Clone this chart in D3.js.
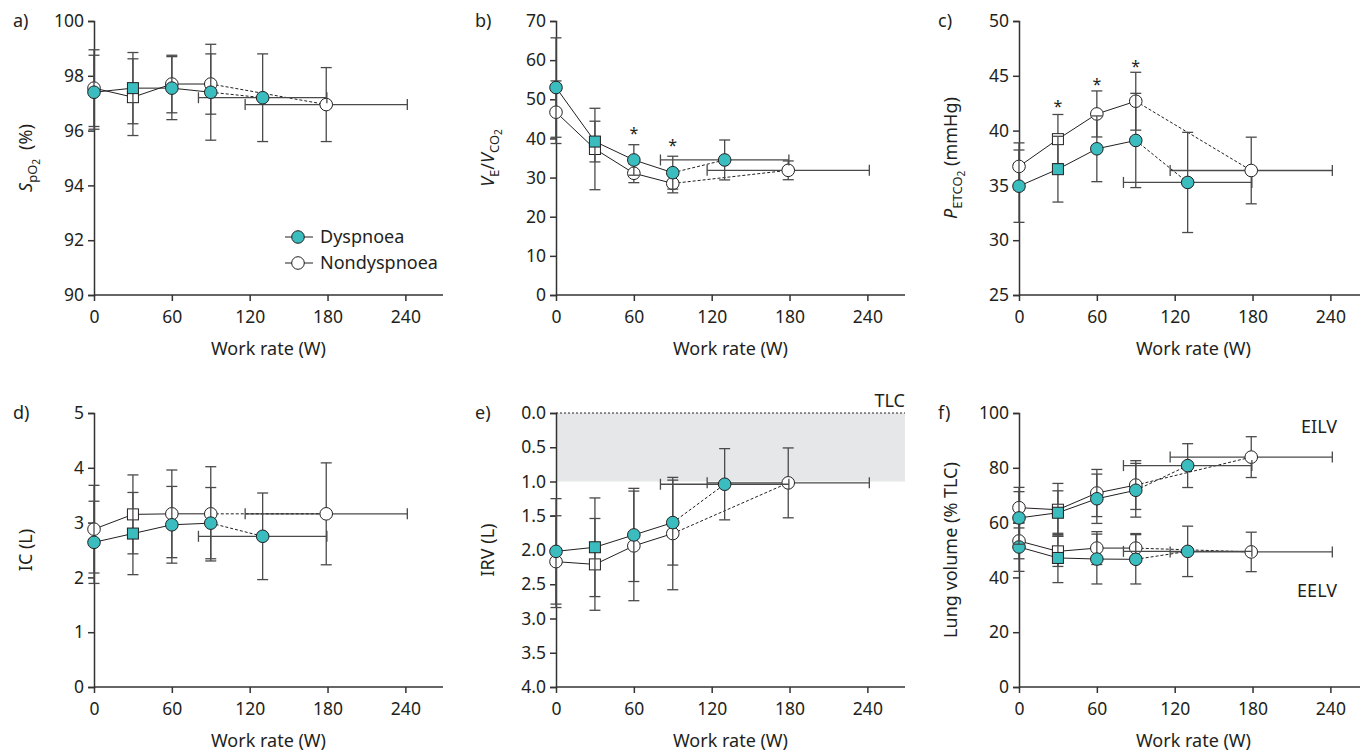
<!DOCTYPE html>
<html>
  <head>
    <meta charset="utf-8">
    <title>Dyspnoea vs nondyspnoea during exercise</title>
    <script src="https://cdn.jsdelivr.net/npm/d3@7"></script>
    <style>
      body { margin: 0; background: #fff; }
      text { font-family: "Noto Sans", sans-serif; fill: #231f20; }
    </style>
  </head>
  <body>
    <script>
        // work rate stages; the last point of every series is the peak (mean +/- sd on x too)
        var stageW = [0, 30, 60, 90];
        var peakDys = [130, 49.5];   // W, mean and sd
        var peakNon = [179, 62.5];

        // a) SpO2 (%)
        var spo2Dys = [97.4, 97.55, 97.55, 97.4, 97.2];
        var spo2DysSd = [1.35, 1.3, 1.15, 1.75, 1.6];
        var spo2Non = [97.55, 97.22, 97.7, 97.7, 96.95];
        var spo2NonSd = [1.4, 1.4, 1.05, 1.1, 1.35];

        // b) VE/VCO2
        var veDys = [53, 39.2, 34.5, 31.25, 34.5];
        var veDysSd = [12.7, 5.2, 3.9, 4.2, 5.1];
        var veNon = [46.7, 37.3, 31.1, 28.5, 31.85];
        var veNonSd = [8, 10.4, 2.4, 2.4, 2.4];
        var veStarW = [60, 90];
        var veStarY = [42.1, 39.2];

        // c) PETCO2 (mmHg)
        var petDys = [34.93, 36.48, 38.34, 39.1, 35.27];
        var petDysSd = [3.3, 3.0, 3.0, 4.3, 4.57];
        var petNon = [36.73, 39.22, 41.52, 42.68, 36.36];
        var petNonSd = [2.15, 2.25, 2.1, 2.64, 3.04];
        var petStarW = [30, 60, 90];
        var petStarY = [42.5, 44.5, 46.2];

        // d) IC (L)
        var icDys = [2.64, 2.80, 2.96, 2.99, 2.75];
        var icDysSd = [0.75, 0.75, 0.7, 0.65, 0.79];
        var icNon = [2.88, 3.15, 3.16, 3.16, 3.16];
        var icNonSd = [0.8, 0.72, 0.8, 0.86, 0.93];

        // e) IRV (L)
        var irvDys = [2.02, 1.96, 1.78, 1.60, 1.04];
        var irvDysSd = [0.77, 0.72, 0.68, 0.62, 0.52];
        var irvNon = [2.17, 2.21, 1.94, 1.76, 1.02];
        var irvNonSd = [0.67, 0.67, 0.8, 0.82, 0.51];

        // f) lung volumes (% TLC)
        var eilvDys = [61.7, 63.6, 68.7, 71.8, 80.8];
        var eilvDysSd = [9.6, 8, 9, 9.8, 8];
        var eilvNon = [65.45, 64.7, 70.8, 73.7, 83.9];
        var eilvNonSd = [7.4, 9.6, 8.6, 8.9, 7.45];
        var eelvDys = [51.1, 47.1, 46.7, 46.6, 49.5];
        var eelvDysSd = [8.9, 9, 9.1, 9, 9.2];
        var eelvNon = [53.3, 49.5, 50.7, 50.7, 49.3];
        var eelvNonSd = [6.5, 5.5, 6, 5.3, 7.2];

        var xTicks = [0, 60, 120, 180, 240];

        var width = 349, height = 274;
        var teal = "#3bbcbf";
        var ink = "#231f20";
        var barColor = "#4a4a4a";

        var svg = d3.select("body").append("svg")
            .attr("width", 1360)
            .attr("height", 753);

        var x = d3.scaleLinear().domain([0, 269]).range([0, width]);

        function makePanel(left, top, letter, yDomain, yTicks, yFmt) {
          var g = svg.append("g").attr("transform", "translate(" + left + "," + top + ")");
          var y = d3.scaleLinear().domain(yDomain).range([height, 0]);

          var xa = g.append("g")
            .attr("transform", "translate(0," + height + ")")
            .call(d3.axisBottom(x).tickValues(xTicks).tickSizeOuter(0).tickSize(6).tickPadding(10));
          var ya = g.append("g")
            .call(d3.axisLeft(y).tickValues(yTicks).tickFormat(yFmt).tickSizeOuter(0).tickSize(6).tickPadding(4));
          [xa, ya].forEach(function(a) {
            a.selectAll("path, line").attr("stroke", "#333").attr("stroke-width", 1.5);
            a.selectAll("text").style("font-size", "17.5px").attr("fill", ink);
          });
          // x-axis line runs from y-axis to right end
          xa.select("path.domain").attr("d", "M0,0H" + width);

          g.append("text")
            .attr("x", width / 2)
            .attr("y", height + 60)
            .attr("text-anchor", "middle")
            .style("font-size", "18px")
            .text("Work rate (W)");

          g.append("text")
            .attr("x", -81)
            .attr("y", 6)
            .style("font-size", "18px")
            .text(letter);

          return {g: g, y: y};
        }

        function yLabel(p, parts) {
          var t = p.g.append("text")
            .attr("transform", "translate(-62," + (height / 2) + ") rotate(-90)")
            .attr("text-anchor", "middle")
            .style("font-size", "18px");
          parts.forEach(function(s) {
            var ts = t.append("tspan").text(s.t);
            if (s.it) ts.style("font-style", "italic");
            if (s.size) ts.style("font-size", s.size + "px");
            if (s.dy) ts.attr("dy", s.dy);
          });
        }

        function drawSeries(p, vals, sds, peak, filled, showPeakX) {
          var g = p.g, y = p.y;
          var pts = vals.map(function(v, i) {
            return {w: i < 4 ? stageW[i] : peak[0], v: v, sd: sds[i], i: i};
          });
          var cap = 5.5;

          // vertical error bars
          var eb = g.append("g").attr("stroke", barColor).attr("stroke-width", 1.3).attr("fill", "none");
          pts.forEach(function(d) {
            var cx = x(d.w), y1 = y(d.v + d.sd), y2 = y(d.v - d.sd);
            eb.append("line").attr("x1", cx).attr("x2", cx).attr("y1", y1).attr("y2", y2);
            eb.append("line").attr("x1", cx - cap).attr("x2", cx + cap).attr("y1", y1).attr("y2", y1);
            eb.append("line").attr("x1", cx - cap).attr("x2", cx + cap).attr("y1", y2).attr("y2", y2);
          });
          // horizontal error bar on the peak point
          if (showPeakX) {
            var pk = pts[4], cy = y(pk.v);
            var xl = x(peak[0] - peak[1]), xr = x(peak[0] + peak[1]);
            eb.append("line").attr("x1", xl).attr("x2", xr).attr("y1", cy).attr("y2", cy);
            eb.append("line").attr("x1", xl).attr("x2", xl).attr("y1", cy - cap).attr("y2", cy + cap);
            eb.append("line").attr("x1", xr).attr("x2", xr).attr("y1", cy - cap).attr("y2", cy + cap);
          }

          var line = d3.line().x(function(d) { return x(d.w); }).y(function(d) { return y(d.v); });
          g.append("path").datum(pts.slice(0, 4))
            .attr("d", line).attr("fill", "none").attr("stroke", ink).attr("stroke-width", 1);
          g.append("path").datum(pts.slice(3, 5))
            .attr("d", line).attr("fill", "none").attr("stroke", ink).attr("stroke-width", 1)
            .attr("stroke-dasharray", "3,2");

          var fill = filled ? teal : "#fff";
          pts.forEach(function(d) {
            if (d.i === 1) {
              g.append("rect")
                .attr("x", x(d.w) - 5.5).attr("y", y(d.v) - 5.5)
                .attr("width", 11).attr("height", 11)
                .attr("fill", fill).attr("stroke", ink).attr("stroke-width", 1);
            } else {
              g.append("circle")
                .attr("cx", x(d.w)).attr("cy", y(d.v)).attr("r", 6.3)
                .attr("fill", fill).attr("stroke", ink).attr("stroke-width", 1);
            }
          });
        }

        function stars(p, ws, ys) {
          p.g.selectAll(null).data(ws).enter().append("text")
            .attr("x", function(d) { return x(d); })
            .attr("y", function(d, i) { return p.y(ys[i]) + 9; })
            .attr("text-anchor", "middle")
            .style("font-size", "16px")
            .text("*");
        }

        // ---- a) SpO2
        var pa = makePanel(94, 21, "a)", [90, 100], [90, 92, 94, 96, 98, 100], d3.format("d"));
        yLabel(pa, [{t: "S", it: true}, {t: "pO", size: 13, dy: 5}, {t: "2", size: 10, dy: 3}, {t: "\u2002(%)", size: 18, dy: -8}]);
        drawSeries(pa, spo2Non, spo2NonSd, peakNon, false, true);
        drawSeries(pa, spo2Dys, spo2DysSd, peakDys, true, true);

        // legend
        var legNames = ["Dyspnoea", "Nondyspnoea"];
        var leg = pa.g.append("g").attr("transform", "translate(191,216)");
        legNames.forEach(function(name, i) {
          var ly = i * 26;
          leg.append("line").attr("x1", 0).attr("x2", 28).attr("y1", ly).attr("y2", ly)
            .attr("stroke", ink).attr("stroke-width", 1);
          leg.append("circle").attr("cx", 13).attr("cy", ly).attr("r", 6.3)
            .attr("fill", i === 0 ? teal : "#fff").attr("stroke", ink);
          leg.append("text").attr("x", 35).attr("y", ly + 6).style("font-size", "18px").text(name);
        });

        // ---- b) VE/VCO2
        var pb = makePanel(556, 21, "b)", [0, 70], [0, 10, 20, 30, 40, 50, 60, 70], d3.format("d"));
        yLabel(pb, [{t: "V", it: true}, {t: "E", size: 13, dy: 5}, {t: "/", size: 18, dy: -5}, {t: "V", it: true},
                    {t: "CO", size: 13, dy: 5}, {t: "2", size: 10, dy: 3}]);
        drawSeries(pb, veNon, veNonSd, peakNon, false, true);
        drawSeries(pb, veDys, veDysSd, peakDys, true, true);
        stars(pb, veStarW, veStarY);

        // ---- c) PETCO2
        var pc = makePanel(1019, 21, "c)", [25, 50], [25, 30, 35, 40, 45, 50], d3.format("d"));
        yLabel(pc, [{t: "P", it: true}, {t: "ETCO", size: 13, dy: 5}, {t: "2", size: 10, dy: 3}, {t: "\u00a0(mmHg)", size: 18, dy: -8}]);
        drawSeries(pc, petNon, petNonSd, peakNon, false, true);
        drawSeries(pc, petDys, petDysSd, peakDys, true, true);
        stars(pc, petStarW, petStarY);

        // ---- d) IC
        var pd = makePanel(94, 413, "d)", [0, 5], [0, 1, 2, 3, 4, 5], d3.format("d"));
        yLabel(pd, [{t: "IC (L)"}]);
        drawSeries(pd, icNon, icNonSd, peakNon, false, true);
        drawSeries(pd, icDys, icDysSd, peakDys, true, true);

        // ---- e) IRV, reversed axis with shaded band up to TLC
        var pe = makePanel(556, 413, "e)", [4, 0], [0, 0.5, 1, 1.5, 2, 2.5, 3, 3.5, 4], d3.format(".1f"));
        pe.g.insert("rect", ":first-child")
          .attr("x", 0).attr("width", width)
          .attr("y", pe.y(0)).attr("height", pe.y(1) - pe.y(0))
          .attr("fill", "#e6e7e8");
        pe.g.append("line")
          .attr("x1", 0).attr("x2", width).attr("y1", pe.y(0)).attr("y2", pe.y(0))
          .attr("stroke", ink).attr("stroke-width", 1).attr("stroke-dasharray", "2,2");
        pe.g.append("text").attr("x", width).attr("y", -6).attr("text-anchor", "end")
          .style("font-size", "18px").text("TLC");
        yLabel(pe, [{t: "IRV (L)"}]);
        drawSeries(pe, irvNon, irvNonSd, peakNon, false, true);
        drawSeries(pe, irvDys, irvDysSd, peakDys, true, true);

        // ---- f) lung volumes
        var pf = makePanel(1019, 413, "f)", [0, 100], [0, 20, 40, 60, 80, 100], d3.format("d"));
        yLabel(pf, [{t: "Lung volume (% TLC)"}]);
        drawSeries(pf, eelvNon, eelvNonSd, peakNon, false, true);
        drawSeries(pf, eilvNon, eilvNonSd, peakNon, false, true);
        drawSeries(pf, eelvDys, eelvDysSd, peakDys, true, true);
        drawSeries(pf, eilvDys, eilvDysSd, peakDys, true, true);
        pf.g.append("text").attr("x", 318).attr("y", 20).attr("text-anchor", "end")
          .style("font-size", "18px").text("EILV");
        pf.g.append("text").attr("x", 318).attr("y", 184).attr("text-anchor", "end")
          .style("font-size", "18px").text("EELV");
    </script>
  </body>
</html>
